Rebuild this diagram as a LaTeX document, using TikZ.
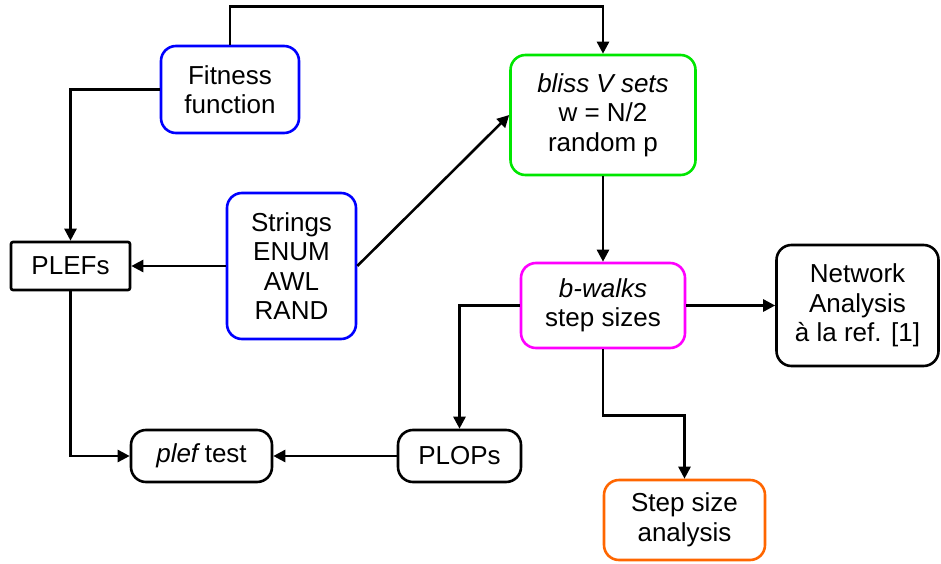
\documentclass[tikz,border=0pt]{standalone}
\usepackage{fontspec}
\setmainfont{Liberation Sans}
\usetikzlibrary{arrows.meta}
\definecolor{boxblue}{RGB}{0,0,255}
\definecolor{boxgreen}{RGB}{0,230,0}
\definecolor{boxmagenta}{RGB}{255,0,255}
\definecolor{boxorange}{RGB}{255,102,0}
\tikzset{
  x=1pt, y=1pt,
  box/.style={draw, line width=2.6pt, rounded corners=15pt, align=center,
    inner sep=0pt, font=\fontsize{26}{29.5}\selectfont},
  sqbox/.style={box, rounded corners=2pt},
  arr/.style={line width=2.6pt, -{Triangle[length=12pt,width=12pt]}},
}
\begin{document}
\begin{tikzpicture}
\useasboundingbox (0,0) rectangle (941,-564);
% boxes
\node[box, draw=boxblue, minimum width=138pt, minimum height=87pt] (fit) at (230,-89.5) {Fitness\\function};
\node[box, draw=boxgreen, minimum width=185pt, minimum height=120pt] (bliss) at (603,-115) {\textit{bliss V sets}\\w = N/2\\random p};
\node[sqbox, minimum width=119pt, minimum height=48pt] (plefs) at (70.5,-266) {PLEFs};
\node[box, draw=boxblue, minimum width=129pt, minimum height=146pt] (str) at (291.5,-266) {Strings\\ENUM\\AWL\\RAND};
\node[box, draw=boxmagenta, minimum width=164pt, minimum height=85pt] (bw) at (603,-305.5) {\textit{b-walks}\\step sizes};
\node[box, minimum width=162pt, minimum height=121pt] (net) at (857.5,-305.5) {Network\\Analysis\\à la ref. [1]};
\node[box, minimum width=141pt, minimum height=52pt] (pt) at (201.5,-456) {\textit{plef}\,test};
\node[box, minimum width=123pt, minimum height=52pt] (plops) at (459.5,-456) {PLOPs};
\node[box, draw=boxorange, minimum width=161pt, minimum height=80pt] (ssa) at (684.5,-520) {Step size\\analysis};
% connectors
\draw[arr] (fit.north) -- ++(0,38) -| (bliss.north);
\draw[arr] (fit.west) -| (plefs.north);
\draw[arr] (str.west) -- (plefs.east);
\draw[arr] (str.east) -- (bliss.west);
\draw[arr] (bliss.south) -- (bw.north);
\draw[arr] (bw.east) -- (net.west);
\draw[arr] (bw.west) -| (plops.north);
\draw[arr] (bw.south) -- ++(0,-66) -| (ssa.north);
\draw[arr] (plefs.south) |- (pt.west);
\draw[arr] (plops.west) -- (pt.east);
\end{tikzpicture}
\end{document}
